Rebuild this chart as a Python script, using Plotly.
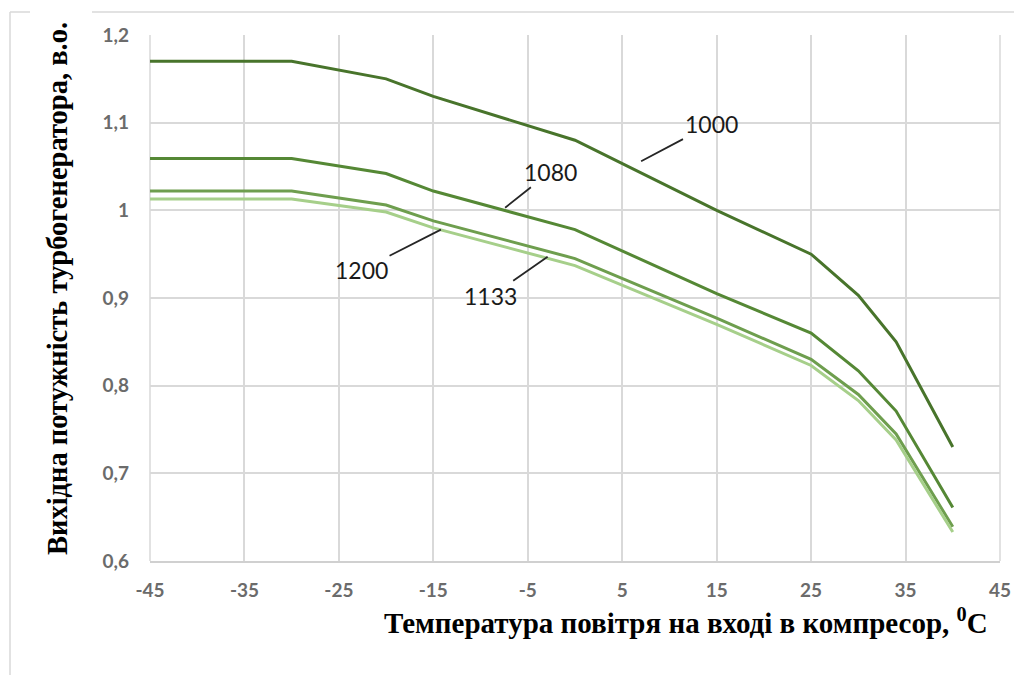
import plotly.graph_objects as go

# ---- data ----
temps = [-45, -30, -20, -15, 0, 15, 25, 30, 34, 40]
p_1000 = [1.170, 1.170, 1.150, 1.130, 1.080, 1.000, 0.950, 0.903, 0.850, 0.730]
p_1080 = [1.059, 1.059, 1.042, 1.022, 0.978, 0.905, 0.860, 0.817, 0.771, 0.661]
p_1200 = [1.022, 1.022, 1.006, 0.988, 0.945, 0.877, 0.830, 0.790, 0.745, 0.639]
p_1133 = [1.013, 1.013, 0.998, 0.980, 0.937, 0.870, 0.823, 0.783, 0.738, 0.633]

series_names = ["1000", "1080", "1200", "1133"]
series_vals = [p_1000, p_1080, p_1200, p_1133]
series_colors = ["#48742b", "#558835", "#6e9e4e", "#a6cf8a"]

x_ticks = [-45, -35, -25, -15, -5, 5, 15, 25, 35, 45]
x_tick_text = ["-45", "-35", "-25", "-15", "-5", "5", "15", "25", "35", "45"]
y_ticks = [0.6, 0.7, 0.8, 0.9, 1.0, 1.1, 1.2]
y_tick_text = ["0,6", "0,7", "0,8", "0,9", "1", "1,1", "1,2"]

# label positions: (curve x, curve y, label x, label y) in data units
label_pts = {
    "1000": (7.0, 1.056, 14.4, 1.098),
    "1080": (-7.4, 1.003, -2.6, 1.044),
    "1200": (-14.2, 0.978, -22.6, 0.932),
    "1133": (-2.9, 0.947, -8.9, 0.902),
}

fig = go.Figure()
for name, vals, col in zip(series_names, series_vals, series_colors):
    fig.add_trace(go.Scatter(x=temps, y=vals, mode="lines", name=name,
                             line=dict(color=col, width=3), showlegend=False))

for name, (x0, y0, tx, ty) in label_pts.items():
    fig.add_annotation(x=x0, y=y0, ax=tx, ay=ty, axref="x", ayref="y",
                       text=name, showarrow=True, arrowhead=0, arrowwidth=1.8,
                       arrowcolor="#262626", standoff=0,
                       font=dict(family="Lato, Open Sans, sans-serif", size=23, color="#1a1a1a"))

# pixel -> paper helpers (plot area spans x 150..1000, y 35..561 on screen)
def px(xp):
    return (xp - 150) / 850

def py(yp):
    return (561 - yp) / 526

# axis titles
fig.add_annotation(xref="paper", yref="paper", x=px(57), y=py(289),
                   text="<b>Вихідна потужність турбогенератора, в.о.</b>", textangle=-90,
                   showarrow=False, xanchor="center", yanchor="middle",
                   font=dict(family="Liberation Serif, Times New Roman, serif", size=28.5, color="#000000"))
fig.add_annotation(xref="paper", yref="paper", x=px(990), y=py(621),
                   text="<b>Температура повітря на вході в компресор, <sup>0</sup>C</b>",
                   showarrow=False, xanchor="right", yanchor="middle",
                   font=dict(family="Liberation Serif, Times New Roman, serif", size=29, color="#000000"))

# outer chart frame (light gray)
frame = dict(color="#d9d9d9", width=1.5)
fig.add_shape(type="line", xref="paper", yref="paper", x0=px(10), x1=px(30), y0=py(12), y1=py(12), line=frame)
fig.add_shape(type="line", xref="paper", yref="paper", x0=px(92), x1=px(1016), y0=py(12), y1=py(12), line=frame)
fig.add_shape(type="line", xref="paper", yref="paper", x0=px(10), x1=px(10), y0=py(12), y1=py(690), line=frame)
fig.add_shape(type="line", xref="paper", yref="paper", x0=px(1016), x1=px(1016), y0=py(12), y1=py(690), line=frame)

tick_font = dict(family="Lato, Open Sans, sans-serif", size=19, color="#6b6b6b")

# the page body has an 8px margin, so the figure is shifted by 8px
fig.update_layout(
    width=1014, height=667,
    margin=dict(l=142, r=22, t=27, b=114),
    paper_bgcolor="white", plot_bgcolor="white",
    xaxis=dict(range=[-45, 45], tickvals=x_ticks, ticktext=[f"<b>{t}</b>" for t in x_tick_text],
               showgrid=True, gridcolor="#d9d9d9", gridwidth=1.5, zeroline=False, showline=True,
               linecolor="#d0d0d0", linewidth=1.5, ticks="", ticklabelstandoff=11,
               tickfont=tick_font),
    yaxis=dict(range=[0.6, 1.2], tickvals=y_ticks, ticktext=[f"<b>{t}</b>" for t in y_tick_text],
               showgrid=True, gridcolor="#d9d9d9", gridwidth=1.5, zeroline=False, showline=False,
               ticks="", ticklabelstandoff=20, tickfont=tick_font),
)
fig.add_shape(type="line", xref="paper", yref="paper", x0=1, x1=1, y0=0, y1=1,
              line=dict(color="#d9d9d9", width=1.5), layer="below")
fig.add_shape(type="line", xref="paper", yref="paper", x0=0, x1=0, y0=0, y1=1,
              line=dict(color="#d9d9d9", width=1.5), layer="below")

fig.write_html("out.html")
